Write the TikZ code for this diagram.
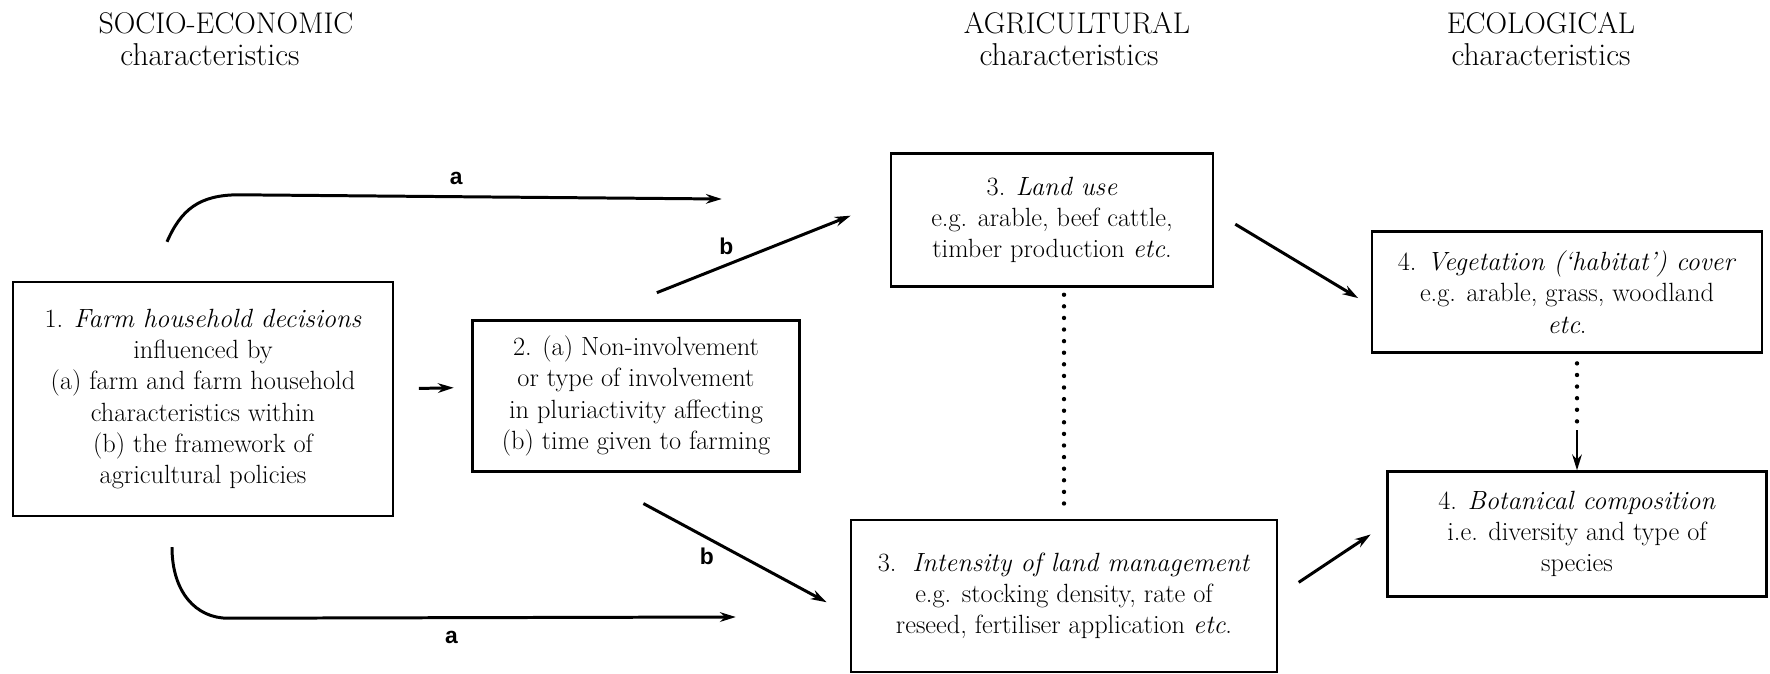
\documentclass[tikz,border=0pt]{standalone}
\usepackage{fontspec}
\newfontfamily\labelfont{Liberation Sans}
\usetikzlibrary{positioning, calc, arrows.meta}

\begin{document}
\begin{tikzpicture}
    [
        x=0.02cm, y=-0.02cm,
        basic/.style = {draw, line width=1.4pt, align=center, inner sep=0pt},
        box/.style = {basic, font=\fontsize{15}{17.8}\selectfont},
        head/.style = {align=center, inner sep=0pt, font=\fontsize{17}{20}\selectfont},
        sub/.style = {align=center, inner sep=0pt, font=\fontsize{18}{21}\selectfont},
        arr/.style = {->, line width=1.7pt},
        dots/.style = {line width=2.5pt, line cap=round, dash pattern=on 0pt off 6.6pt},
        lbl/.style = {font=\labelfont\bfseries\fontsize{13}{15}\selectfont, inner sep=1pt},
        >={Stealth[length=9pt, width=5.5pt]}
    ]
    \useasboundingbox (0,0) rectangle (1770,673);

    \node [head] (socio) at (226,23) {SOCIO-ECONOMIC};
    \node [sub, below=5pt of socio, xshift=-0.32cm] (sociosub) {characteristics};
    \node [head] (agri) at (1077,23) {AGRICULTURAL};
    \node [sub, below=5pt of agri, xshift=-0.16cm] (agrisub) {characteristics};
    \node [head] (eco) at (1541,23) {ECOLOGICAL};
    \node [sub, below=5pt of eco] (ecosub) {characteristics};

    \node [box, minimum width=7.6cm, minimum height=4.68cm] (farm) at (203,399) {1. \textit{Farm household decisions}\\ influenced by\\ (a) farm and farm household\\ characteristics within\\ (b) the framework of\\ agricultural policies};
    \node [box, minimum width=6.54cm, minimum height=3.02cm] (pluri) at (636,396) {2. (a) Non-involvement\\ or type of involvement\\ in pluriactivity affecting\\ (b) time given to farming};
    \node [box, minimum width=6.44cm, minimum height=2.66cm] (landuse) at (1052,220) {3. \textit{Land use}\\ e.g. arable, beef cattle,\\ timber production \textit{etc}.};
    \node [box, minimum width=8.52cm, minimum height=3.04cm] (intensity) at (1064,596) {3.\ \ \textit{Intensity of land management}\\ e.g. stocking density, rate of\\ reseed, fertiliser application \textit{etc}.};
    \node [box, minimum width=7.8cm, minimum height=2.42cm] (veg) at (1567,292) {4. \textit{Vegetation (`habitat') cover}\\ e.g. arable, grass, woodland\\ \textit{etc}.};
    \node [box, minimum width=7.58cm, minimum height=2.5cm] (bot) at (1577,534) {4. \textit{Botanical composition}\\ i.e. diversity and type of\\ species};

    \coordinate (topstart) at ($(farm.north)+(-36,-39)$);
    \coordinate (topend) at ($(landuse.west)+(-168,-21)$);
    \coordinate (botstart) at ($(farm.south)+(-31,30)$);
    \coordinate (botend) at ($(intensity.west)+(-114,21)$);
    \coordinate (vegstem) at ($(bot.north)+(0,-40)$);

    \draw [arr] (topstart) .. controls +(14,-32) and +(-40,0) .. +(72,-47) -- (topend) node [lbl, pos=0.45, above=5pt] {a};
    \draw [arr] (botstart) .. controls +(0,45) and +(-32,0) .. +(56,71) -- (botend) node [lbl, pos=0.44, below=6pt] {a};

    \draw [arr, shorten <=14pt, shorten >=10pt] (farm.3) -- (pluri.177);
    \draw [arr, shorten <=41pt, shorten >=24pt] (pluri.121) -- (landuse.173) node [lbl, pos=0.455, above=4pt] {b};
    \draw [arr, shorten <=37pt, shorten >=15pt] (pluri.237) -- (intensity.185) node [lbl, pos=0.458, below=4pt] {b};

    \draw [arr, shorten <=14pt, shorten >=8.4pt] (landuse.3) -- (veg.184);
    \draw [arr, shorten <=14pt, shorten >=10.7pt] (intensity.0) -- (bot.177);

    \draw [dots, shorten <=4pt, shorten >=5pt] (landuse.south -| intensity.north) -- (intensity.north);
    \draw [dots, shorten <=5.5pt] (veg.south -| bot.north) -- (vegstem);
    \draw [arr, line width=1.3pt] (vegstem) -- (bot.north);

\end{tikzpicture}
\end{document}
